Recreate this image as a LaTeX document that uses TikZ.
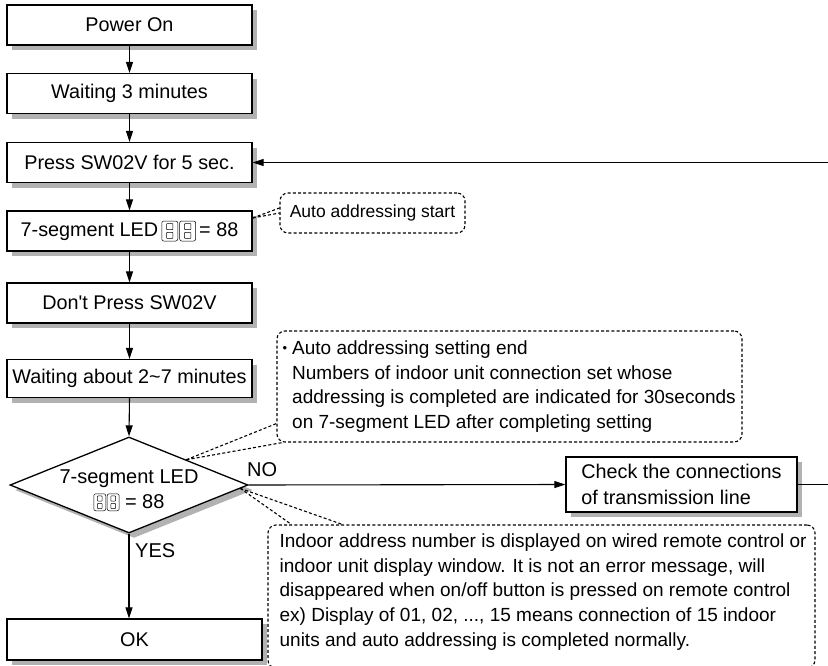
\documentclass[tikz,border=0pt]{standalone}
\usepackage{fontspec}
\setmainfont{Liberation Sans}
\usetikzlibrary{shapes.geometric,shadows,arrows.meta,calc}
\newcommand{\ledicon}[3]{\tikz[baseline=#3,x=#1,y=#2,line width=0.5pt,line join=round]{%
  \foreach \i in {0,1.12}{%
    \draw[fill=white,rounded corners=2pt] (\i,0) rectangle ++(1,1);
    \draw[rounded corners=0.6pt] (\i+0.3,0.13) rectangle ++(0.4,0.3);
    \draw[rounded corners=0.6pt] (\i+0.3,0.57) rectangle ++(0.4,0.3);}}}
\newcommand{\smallbullet}{\raisebox{1.5pt}{\fontsize{13}{13}\selectfont\textbullet}\kern5pt}
\begin{document}
\begin{tikzpicture}[x=1pt,y=-1pt,
  shad/.style={drop shadow={shadow xshift=5pt,shadow yshift=-5pt,fill=black!30,opacity=1}},
  box/.style={draw,line width=1.3pt,fill=white,minimum width=245pt,minimum height=40pt,
    inner sep=0pt,font=\fontsize{19.8}{26}\selectfont,shad},
  arr/.style={-{Triangle[length=11pt,width=7pt]},line width=1.1pt},
  note/.style={draw,rounded corners=8pt,line width=1.1pt,dash pattern=on 3pt off 2.2pt,inner sep=0pt},
  notel/.style={line width=1.1pt,dash pattern=on 3pt off 2.2pt},
  ntext/.style={inner sep=0pt,align=left,font=\fontsize{19}{24.75}\selectfont},
  lbl/.style={inner sep=0pt,font=\fontsize{20}{24}\selectfont}]
\useasboundingbox (0,0) rectangle (828,665);
\clip (0,0) rectangle (828,665);
% boxes
\node[box] (p1) at (129.5,25) {Power On};
\node[box] (p2) at (129.5,93.5) {Waiting 3 minutes};
\node[box] (p3) at (129.5,162.5) {Press SW02V for 5 sec.};
\node[box] (p4) at (129.5,231) {7-segment LED\,\ledicon{16pt}{20pt}{5pt}\,= 88};
\node[box] (p5) at (129.5,303) {Don\textquotesingle t Press SW02V};
\node[box,minimum height=38pt] (p6) at (129.5,378.5) {Waiting about 2\textasciitilde 7 minutes};
\node[diamond,draw,line width=1.3pt,fill=white,minimum width=238pt,minimum height=96pt,
  inner sep=0pt,shad] (dec) at (129,485) {};
\node[lbl,align=center] (dect) at (129,490.5) {7-segment LED\\[1pt]\ledicon{12pt}{17pt}{2pt}\ = 88};
\node[box,minimum width=231pt,minimum height=55pt,align=left] (chk) at (681.5,484.5)
  {Check the connections\\of transmission line};
\node[box,minimum width=255pt,minimum height=41pt] (ok) at (134.5,639.5) {OK};
% labels
\node[lbl,anchor=west] (no) at (247,470) {NO};
\node[lbl,anchor=west] (yes) at (135,551) {YES};
% connectors
\draw[arr] (p1) -- (p2);
\draw[arr] (p2) -- (p3);
\draw[arr] (p3) -- (p4);
\draw[arr] (p4) -- (p5);
\draw[arr] (p5) -- (p6);
\draw[arr] (p6.south) -- (dec.north);
\draw[arr] (dec.south) -- (dec.south |- ok.north);
\draw[arr] (dec.east) -- (chk.west);
\coordinate (rt) at (845,484.5);
\draw[arr] (chk.east) -- (rt) |- (p3.east);
% callouts
\node[note,minimum width=185pt,minimum height=40pt,font=\fontsize{17.5}{22}\selectfont] (c1) at (372.5,213) {Auto addressing start};
\node[note,minimum width=465pt,minimum height=111pt] (c2) at (509.5,386.5) {};
\node[ntext,anchor=west] (c2t) at ([xshift=6pt]c2.west)
  {\begin{tabular}{@{}l@{}l@{}}\smallbullet & Auto addressing setting end\\
   & Numbers of indoor unit connection set whose\\
   & addressing is completed are indicated for 30seconds\\
   & on 7-segment LED after completing setting\end{tabular}};
\node[note,minimum width=547pt,minimum height=143pt] (c3) at (541.5,596.5) {};
\node[ntext,anchor=north west] (c3t) at ([xshift=12pt,yshift=-9pt]c3.north west)
  {Indoor address number is displayed on wired remote control or\\
   indoor unit display window. It is not an error message, will\\
   disappeared when on/off button is pressed on remote control\\
   ex) Display of 01, 02, ..., 15 means connection of 15 indoor\\
   units and auto addressing is completed normally.};
% callout pointers
\coordinate (t1) at ([yshift=13pt]p4.east);
\draw[notel] (t1) -- (c1.west);
\draw[notel] (t1) -- ([yshift=5pt]c1.west);
\coordinate (t2) at ($(dec.north)!0.48!(dec.east)$);
\draw[notel] (t2) -- ([yshift=19pt]c2.south west);
\draw[notel] (t2) -- ([xshift=6pt]c2.south west);
\coordinate (t3) at ($(dec.east)!0.07!(dec.south)$);
\draw[notel] (t3) -- ([xshift=24pt]c3.north west);
\draw[notel] (t3) -- ([xshift=75pt]c3.north west);
\end{tikzpicture}
\end{document}
